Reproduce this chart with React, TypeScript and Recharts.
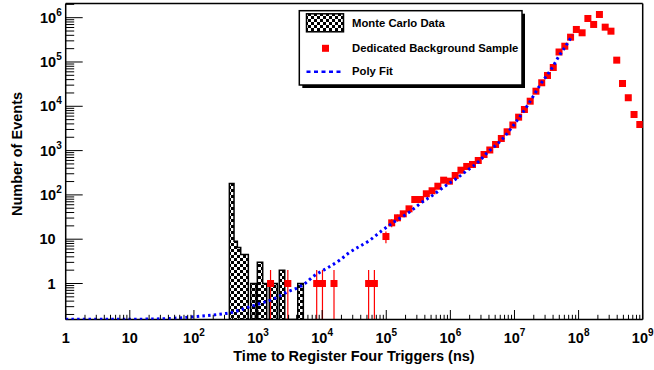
import React from 'react';
import {
  ComposedChart,
  Area,
  Line,
  Scatter,
  XAxis,
  YAxis,
  ErrorBar,
  ReferenceLine,
  Legend,
  Label,
} from 'recharts';

// ---- axis ranges ----
const X_MIN = 1;
const X_MAX = 1e9;
const Y_MIN = 0.154;
const Y_MAX = 2.09e6;

// ---- tick definitions ----
const X_DECADES = [1, 10, 100, 1e3, 1e4, 1e5, 1e6, 1e7, 1e8, 1e9];
const Y_DECADES = [0.1, 1, 10, 100, 1e3, 1e4, 1e5, 1e6];
const MINOR_STEPS = [2, 3, 4, 5, 6, 7, 8, 9];

// ---- Monte Carlo histogram (bin edges in ns, counts) ----
const MC_LO = [357, 422, 476, 537, 769, 975, 1183, 1500, 2148, 4160];
const MC_HI = [422, 476, 537, 706, 931, 1183, 1367, 2000, 2611, 5090];
const MC_COUNTS = [180, 9, 6.5, 4.5, 1, 3, 1, 1, 2, 1];

// ---- Dedicated background sample ----
const BKG_X = [
  1567, 2917, 8222, 10116, 15311, 53088, 65313,
  98860, 121600, 149600, 184100, 226500, 278600, 342800, 421700, 518800, 638300,
  785200, 966100, 1.189e6, 1.462e6, 1.799e6, 2.213e6, 2.723e6, 3.35e6, 4.121e6, 5.07e6,
  6.237e6, 7.674e6, 9.441e6, 1.161e7, 1.429e7, 1.758e7, 2.163e7, 2.661e7, 3.273e7, 4.027e7,
  4.955e7, 6.095e7, 7.499e7, 9.226e7, 1.135e8, 1.396e8, 1.718e8, 2.113e8, 2.6e8, 3.199e8,
  3.936e8, 4.842e8, 5.957e8, 7.328e8, 9.016e8,
];
const BKG_N = [
  1, 1, 1, 1, 1, 1, 1,
  11.5, 23.4, 30.4, 37.4, 48.5, 78.7, 78.7, 106, 124, 157,
  215, 204, 274, 361, 438, 486, 598, 817, 1032, 1374,
  1876, 2656, 3780, 5680, 8470, 13030, 21900, 33950, 49600, 75100,
  168000, 227000, 363000, 542000, 456000, 959000, 703000, 1181000, 611000, 496000,
  110000, 32700, 15600, 6530, 3880,
];
const BKG_ERR_DN = [
  0.846, 0.846, 0.846, 0.846, 0.846, 0.846, 0.846,
  3.4, 4.8, 5.5, 6.1, 7, 8.9, 8.9, 10.3, 11.1, 12.5,
  14.7, 14.3, 16.6, 19, 20.9, 22, 24.5, 28.6, 32.1, 37,
  43, 51, 61, 75, 92, 114, 148, 184, 223, 274,
  410, 476, 602, 736, 675, 979, 838, 1087, 782, 704,
  332, 181, 125, 81, 62,
];
const BKG_ERR_UP = [
  1.02, 1.02, 1.02, 1.02, 1.02, 1.02, 1.02,
  3.4, 4.8, 5.5, 6.1, 7, 8.9, 8.9, 10.3, 11.1, 12.5,
  14.7, 14.3, 16.6, 19, 20.9, 22, 24.5, 28.6, 32.1, 37,
  43, 51, 61, 75, 92, 114, 148, 184, 223, 274,
  410, 476, 602, 736, 675, 979, 838, 1087, 782, 704,
  332, 181, 125, 81, 62,
];

// ---- Poly fit curve ----
const FIT_X = [
  1, 10, 40, 100, 200, 400, 750, 1800, 2900, 4500, 5400, 7300, 11800, 19000, 25600,
  56000, 85000, 130000, 235000, 340000, 540000, 800000, 1.26e6, 1.8e6, 2.74e6, 3.9e6,
  6.3e6, 1e7, 1.6e7, 2.5e7, 4e7, 5e7, 6.2e7, 8e7,
];
const FIT_Y = [
  0.155, 0.156, 0.162, 0.178, 0.195, 0.225, 0.3, 0.46, 0.65, 0.85, 1.0, 1.45, 2.2, 3.4, 4.8,
  9.6, 15.5, 24, 42, 64, 100, 153, 237, 350, 560, 940,
  1740, 4000, 10500, 30000, 80000, 140000, 221000, 400000,
];

// ---- tables built from the arrays ----
const mcData: { x: number; y: number }[] = [{ x: MC_LO[0], y: Y_MIN }];
MC_LO.forEach((lo, i) => {
  if (i > 0 && lo !== MC_HI[i - 1]) mcData.push({ x: MC_HI[i - 1], y: Y_MIN });
  mcData.push({ x: lo, y: MC_COUNTS[i] });
});
mcData.push({ x: MC_HI[MC_HI.length - 1], y: Y_MIN });

const bkgData = BKG_X.map((x, i) => ({ x, y: BKG_N[i], err: [BKG_ERR_DN[i], BKG_ERR_UP[i]] }));
const fitData = FIT_X.map((x, i) => ({ x, y: FIT_Y[i] }));

const buildTicks = (decades: number[], lo: number, hi: number) => {
  const t: number[] = [];
  decades.forEach((d) => {
    t.push(d);
    MINOR_STEPS.forEach((m) => t.push(d * m));
  });
  return t.filter((v) => v >= lo && v <= hi);
};
const xTicks = buildTicks(X_DECADES, X_MIN, X_MAX);
const yTicks = buildTicks(Y_DECADES, Y_MIN, Y_MAX);

const FONT = '"Liberation Sans", Arial, Helvetica, sans-serif';

const isDecade = (v: number) => {
  const e = Math.log10(v);
  return Math.abs(e - Math.round(e)) < 1e-9;
};

const labelParts = (v: number) => {
  const e = Math.round(Math.log10(v));
  if (e === 0) return <tspan>1</tspan>;
  if (e === 1) return <tspan>10</tspan>;
  return (
    <>
      <tspan>10</tspan>
      <tspan dy={-7} fontSize={10}>{e}</tspan>
    </>
  );
};

const XTick = (props: any) => {
  const { x, y, payload } = props;
  const v = payload.value;
  const major = isDecade(v);
  return (
    <g>
      <line x1={x} x2={x} y1={y} y2={y - (major ? 9.5 : 4.7)} stroke="#000" strokeWidth={1} />
      {major && (
        <text x={x} y={y + 23.5} textAnchor="middle" fontFamily={FONT} fontWeight="bold" fontSize={14.5} fill="#000">
          {labelParts(v)}
        </text>
      )}
    </g>
  );
};

const YTick = (props: any) => {
  const { x, y, payload } = props;
  const v = payload.value;
  const major = isDecade(v);
  const e = Math.round(Math.log10(v));
  return (
    <g>
      <line x1={x} x2={x + (major ? 17 : 8.5)} y1={y} y2={y} stroke="#000" strokeWidth={1} />
      {major && (
        <text x={e >= 2 ? x - 4 : x - 10} y={y + 5} textAnchor="end" fontFamily={FONT} fontWeight="bold" fontSize={14.5} fill="#000">
          {labelParts(v)}
        </text>
      )}
    </g>
  );
};

const LegendBox = () => (
  <svg width={230} height={82} style={{ display: 'block', overflow: 'visible' }}>
    <defs>
      <pattern id="checkerLegend" width="6" height="6" patternUnits="userSpaceOnUse">
        <rect width="6" height="6" fill="#fff" />
        <rect width="3" height="3" fill="#000" />
        <rect x="3" y="3" width="3" height="3" fill="#000" />
      </pattern>
    </defs>
    <rect x={3.3} y={3.7} width={222.7} height={74.3} fill="#000" />
    <rect x={0.3} y={0.7} width={222.7} height={74.3} fill="#fff" stroke="#000" strokeWidth={1.5} />
    <rect x={7.5} y={3.8} width={37} height={18} fill="url(#checkerLegend)" stroke="#000" strokeWidth={1.5} />
    <text x={53} y={17.4} fontFamily={FONT} fontWeight="bold" fontSize={11.3} fill="#000">Monte Carlo Data</text>
    <rect x={23} y={34.8} width={7} height={7} fill="#ff0000" />
    <text x={53} y={41.6} fontFamily={FONT} fontWeight="bold" fontSize={11.3} fill="#000">Dedicated Background Sample</text>
    <line x1={7.5} x2={44.5} y1={61.7} y2={61.7} stroke="#0000ff" strokeWidth={2.5} strokeDasharray="4 3.5" />
    <text x={53} y={65.4} fontFamily={FONT} fontWeight="bold" fontSize={11.3} fill="#000">Poly Fit</text>
  </svg>
);

const XTitle = () => (
  <text x={354} y={361} textAnchor="middle" fontFamily={FONT} fontWeight="bold" fontSize={14.5} fill="#000">
    Time to Register Four Triggers (ns)
  </text>
);

const YTitle = () => (
  <text x={22} y={154} transform="rotate(-90 22 154)" textAnchor="middle" fontFamily={FONT} fontWeight="bold" fontSize={14.5} fill="#000">
    Number of Events
  </text>
);

export default function App() {
  return (
    <div style={{ position: 'absolute', left: 0, top: 0, width: 654, height: 370, background: '#fff' }}>
      <ComposedChart width={654} height={370} margin={{ top: 3.5, right: 11.3, bottom: 0, left: 0 }}>
        <defs>
          <pattern id="checker" width="6" height="6" patternUnits="userSpaceOnUse">
            <rect width="6" height="6" fill="#fff" />
            <rect width="3" height="3" fill="#000" />
            <rect x="3" y="3" width="3" height="3" fill="#000" />
          </pattern>
        </defs>
        <XAxis
          type="number"
          dataKey="x"
          scale="log"
          domain={[X_MIN, X_MAX]}
          allowDataOverflow
          ticks={xTicks}
          interval={0}
          tick={<XTick />}
          tickLine={false}
          tickSize={0}
          tickMargin={0}
          height={50.5}
          axisLine={{ stroke: '#000', strokeWidth: 1.5 }}
        >
          <Label content={<XTitle />} />
        </XAxis>
        <YAxis
          type="number"
          dataKey="y"
          scale="log"
          domain={[Y_MIN, Y_MAX]}
          allowDataOverflow
          ticks={yTicks}
          interval={0}
          tick={<YTick />}
          tickLine={false}
          tickSize={0}
          tickMargin={0}
          width={65.7}
          axisLine={{ stroke: '#000', strokeWidth: 1.5 }}
        >
          <Label content={<YTitle />} />
        </YAxis>
        <ReferenceLine y={Y_MAX} stroke="#000" strokeWidth={1.5} />
        <ReferenceLine x={X_MAX} stroke="#000" strokeWidth={1.5} />
        <Area
          data={mcData}
          dataKey="y"
          name="Monte Carlo Data"
          type="stepAfter"
          baseValue="dataMin"
          fill="url(#checker)"
          fillOpacity={1}
          stroke="#000"
          strokeWidth={1.5}
          isAnimationActive={false}
        />
        <Scatter
          data={bkgData}
          dataKey="y"
          name="Dedicated Background Sample"
          fill="#ff0000"
          isAnimationActive={false}
          shape={(p: any) => <rect x={p.cx - 3.5} y={p.cy - 3.5} width={7} height={7} fill="#ff0000" />}
        >
          <ErrorBar dataKey="err" direction="y" width={0} stroke="#ff0000" strokeWidth={1.2} />
        </Scatter>
        <Line
          data={fitData}
          dataKey="y"
          name="Poly Fit"
          type="monotone"
          stroke="#0000ff"
          strokeWidth={3}
          strokeDasharray="2.5 3.2"
          dot={false}
          isAnimationActive={false}
          {...({ zIndex: 1000 } as any)}
        />
        <Legend
          layout="horizontal"
          verticalAlign="middle"
          align="center"
          wrapperStyle={{ left: 299, top: 10, width: 230, height: 82 }}
          content={<LegendBox />}
        />
      </ComposedChart>
    </div>
  );
}
